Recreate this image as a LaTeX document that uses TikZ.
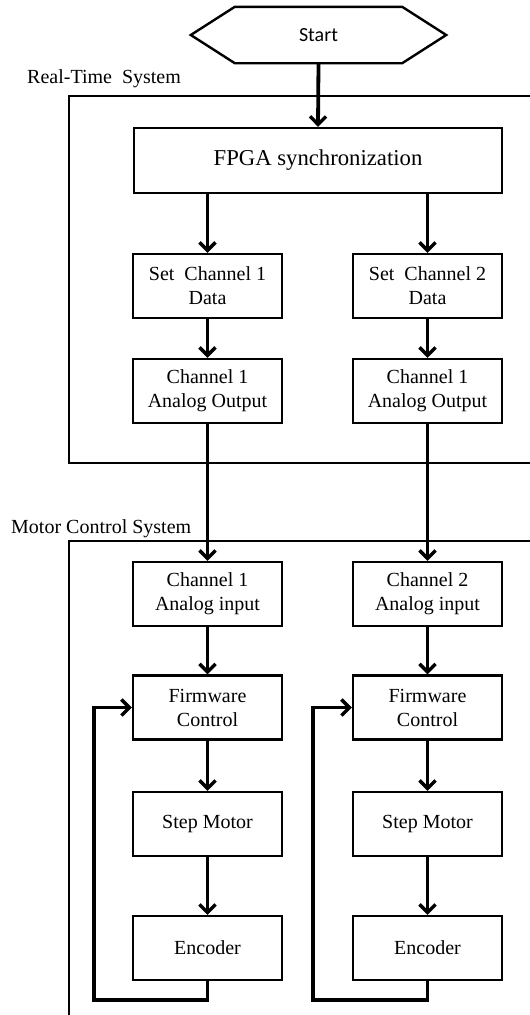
\documentclass[tikz,border=0pt]{standalone}
\usepackage{fontspec}
\setmainfont{Liberation Serif}
\newfontfamily\startfont{Carlito}
\usetikzlibrary{arrows.meta,calc}
\tikzset{
  box/.style={draw, line width=2.4pt, minimum width=149pt, minimum height=64pt, inner sep=0pt, align=center, font=\fontsize{20}{24}\selectfont},
  frame/.style={draw, line width=2.4pt},
  conn/.style={line width=3.8pt, -{Straight Barb[length=8pt,width=16pt,line width=3.4pt]}},
  loopline/.style={line width=3.8pt, -{Straight Barb[length=8pt,width=16pt,line width=3.4pt]}},
  lbl/.style={font=\fontsize{20}{24}\selectfont, inner sep=0pt, anchor=base west}
}
\begin{document}
\begin{tikzpicture}[x=1pt,y=-1pt]
\useasboundingbox (0,0) rectangle (530,1015);
\clip (0,0) rectangle (530,1015);
% frames
\draw[frame] (560,96) -- (69,96) -- (69,463) -- (560,463);
\draw[frame] (560,541) -- (69,541) -- (69,1040);
\node[lbl] (rtlabel) at (27,83) {Real-Time\ \ System};
\node[lbl] (mclabel) at (11,533) {Motor Control\ System};
% start
\node[inner sep=0pt, minimum width=255pt, minimum height=56pt, font=\startfont\fontsize{20}{24}\selectfont] (start) at (318.5,35) {Start};
\draw[line width=2.4pt, line join=miter] (start.west) -- ([xshift=44pt]start.north west) -- ([xshift=-44pt]start.north east) -- (start.east) -- ([xshift=-44pt]start.south east) -- ([xshift=44pt]start.south west) -- cycle;
% boxes
\node[box, minimum width=368pt, minimum height=65pt, font=\fontsize{22.7}{27}\selectfont] (fpga) at (318,160.5) {FPGA synchronization};
\node[box] (set1) at (207.5,286) {Set\ \ Channel 1\\Data};
\node[box] (set2) at (427.5,286) {Set\ \ Channel 2\\Data};
\node[box] (out1) at (207.5,391) {Channel 1\\Analog Output};
\node[box] (out2) at (427.5,391) {Channel 1\\Analog Output};
\node[box] (in1) at (207.5,594) {Channel 1\\Analog input};
\node[box] (in2) at (427.5,594) {Channel 2\\Analog input};
\node[box] (fw1) at (207.5,707.5) {Firmware\\Control};
\node[box] (fw2) at (427.5,707.5) {Firmware\\Control};
\node[box] (sm1) at (207.5,824) {Step Motor};
\node[box] (sm2) at (427.5,824) {Step Motor};
\node[box] (enc1) at (207.5,948) {Encoder};
\node[box] (enc2) at (427.5,948) {Encoder};
% connectors
\draw[conn] (start.south) -- (fpga.north);
\draw[conn] (fpga.south -| set1.north) -- (set1.north);
\draw[conn] (fpga.south -| set2.north) -- (set2.north);
\draw[conn] (set1) -- (out1);
\draw[conn] (set2) -- (out2);
\draw[conn] (out1) -- (in1);
\draw[conn] (out2) -- (in2);
\draw[conn] (in1) -- (fw1);
\draw[conn] (in2) -- (fw2);
\draw[conn] (fw1) -- (sm1);
\draw[conn] (fw2) -- (sm2);
\draw[conn] (sm1) -- (enc1);
\draw[conn] (sm2) -- (enc2);
\draw[loopline] (enc1.south) -- ++(0,19) -| (94,707.5) -- (fw1.west);
\draw[loopline] (enc2.south) -- ++(0,19) -| (313,707.5) -- (fw2.west);
\end{tikzpicture}
\end{document}
